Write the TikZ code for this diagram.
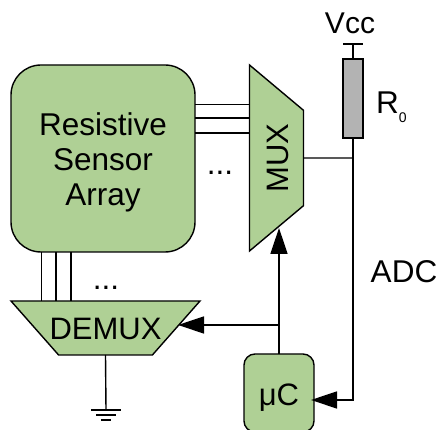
\documentclass[tikz,border=0pt]{standalone}
\usepackage{fontspec}
\setmainfont{Liberation Sans}
\usetikzlibrary{shapes.geometric,arrows.meta,positioning,calc}

\definecolor{blockgreen}{HTML}{AFD095}
\definecolor{resgray}{HTML}{B3B3B3}

\tikzset{
    wire/.style={line width=1.4pt},
    bus/.style={wire, -{Triangle[length=26pt,width=17pt]}},
    block/.style={draw, line width=1.4pt, fill=blockgreen, inner sep=0pt, outer sep=0pt, align=center},
    funnel/.style={block, trapezium, trapezium stretches body=true, shape border rotate=180, text height=38.5pt, text depth=15.5pt},
    label/.style={inner sep=0pt, outer sep=0pt, align=center, font=\fontsize{31.5}{35}\selectfont}
}

\begin{document}
\begin{tikzpicture}[x=1pt, y=1pt]
    \useasboundingbox (0,0) rectangle (437,430);

    % blocks
    \node[block, rounded corners=30pt, minimum width=184pt, minimum height=187pt] (sensor) at (103,271.5) {};
    \node[funnel, rotate=90, trapezium angle=50, minimum width=186pt, font=\fontsize{31}{35}\selectfont] (mux) at (276.5,272) {MUX};
    \node[funnel, trapezium angle=48.6, minimum width=189pt, font=\fontsize{31}{35}\selectfont] (demux) at (105.5,102) {\makebox[0pt]{DEMUX}};
    \node[block, rounded corners=11pt, minimum width=70pt, minimum height=78pt, text height=32pt, text depth=6pt, font=\fontsize{31}{35}\selectfont] (uc) at (279,37) {μC};
    \node[draw, line width=1.4pt, fill=resgray, outer sep=0pt, minimum width=20pt, minimum height=79pt] (rzero) at (353,331.5) {};

    % labels
    \node[label] (sensorname) at (103,268) {Resistive\\Sensor\\Array};
    \node[label, font=\fontsize{30}{35}\selectfont, anchor=base] (vcc) at (350,396) {Vcc};
    \node[label, anchor=base west] (rname) at (376,316) {R\raisebox{-9pt}{\fontsize{14}{14}\selectfont 0}};
    \node[label, anchor=base] (adc) at (404,147) {ADC};
    \node[label, anchor=base] (busdots) at (220,255) {...};
    \node[label, anchor=base] (selectdots) at (106,140) {...};

    % helper points
    \coordinate (vccbar) at (353,386);
    \coordinate (muxout) at (353,272);
    \coordinate (adcturn) at (353,30);
    \coordinate (muxsel) at (279,202);
    \coordinate (demuxsel) at (178,105);
    \coordinate (seljoin) at (279,105);
    \coordinate (gnd) at (106,20);

    % sensor to mux and demux
    \foreach \dy in {25.5,40.5,54}
        \draw[wire] ([yshift=\dy pt]sensor.east) -- ([yshift=\dy pt]sensor.east -| mux.north);
    \foreach \dx in {-61.5,-47,-32}
        \draw[wire] ([xshift=\dx pt]sensor.south) -- ([xshift=\dx pt]sensor.south |- demux.north);

    % supply and adc line
    \draw[wire] (vccbar) -- (rzero.north);
    \draw[wire] ([xshift=-10pt]vccbar) -- ([xshift=10pt]vccbar);
    \draw[wire] (mux.south) -- (muxout);
    \draw[bus, shorten >=-3pt] (rzero.south) -- (adcturn) -- (uc.east |- adcturn);

    % select lines
    \draw[bus] (uc.north) -- (muxsel);
    \draw[bus] (seljoin) -- (demuxsel);

    % ground
    \draw[wire] (demux.south) -- (gnd);
    \draw[wire] ([xshift=-15pt]gnd) -- ([xshift=15pt]gnd);
    \draw[wire] ([xshift=-10pt,yshift=-5pt]gnd) -- ([xshift=10pt,yshift=-5pt]gnd);
    \draw[wire] ([xshift=-5pt,yshift=-10pt]gnd) -- ([xshift=5pt,yshift=-10pt]gnd);
\end{tikzpicture}
\end{document}
